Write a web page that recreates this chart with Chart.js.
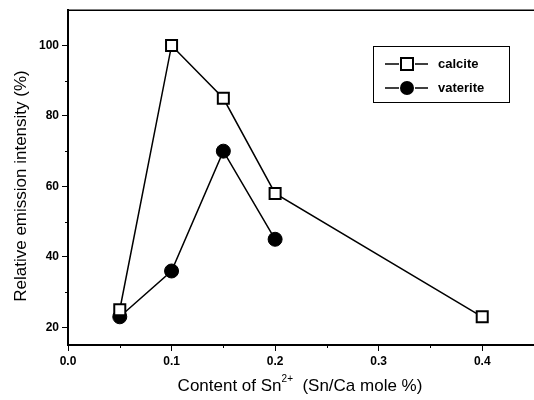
<!DOCTYPE html>
<html>
<head>
<meta charset="utf-8">
<script src="https://cdn.jsdelivr.net/npm/chart.js@4/dist/chart.umd.min.js"></script>
<style>
  body { margin: 0; background: #fff; }
  canvas { display: block; }
</style>
</head>
<body>
<canvas id="graphic" width="534" height="400"></canvas>
<script>
// Sn2+ content (Sn/Ca mole %) and relative emission intensity (%)
const calciteContent = [0.05, 0.1, 0.15, 0.2, 0.4];
const calciteIntensity = [25, 100, 85, 58, 23];
const vateriteContent = [0.05, 0.1, 0.15, 0.2];
const vateriteIntensity = [23, 36, 70, 45];

const xMajorTicks = [0.0, 0.1, 0.2, 0.3, 0.4];
const xMinorTicks = [0.05, 0.15, 0.25, 0.35, 0.45];
const yMajorTicks = [20, 40, 60, 80, 100];
const yMinorTicks = [30, 50, 70, 90];

const seriesNames = ['calcite', 'vaterite'];

const toPoints = (xs, ys) => xs.map((x, i) => ({ x: x, y: ys[i] }));

const FONT = 'Arial, "Liberation Sans", sans-serif';

// frame top line, minor ticks, axis titles and the legend box
const decorations = {
    id: 'decorations',
    afterDraw(chart) {
        const ctx = chart.ctx;
        const area = chart.chartArea;
        const xs = chart.scales.x;
        const ys = chart.scales.y;
        ctx.save();
        ctx.strokeStyle = '#000';

        ctx.lineWidth = 1.5;
        ctx.beginPath();
        ctx.moveTo(area.left, area.top);
        ctx.lineTo(area.right, area.top);
        ctx.stroke();

        ctx.lineWidth = 1;
        ctx.beginPath();
        xMinorTicks.forEach(v => {
            const px = Math.round(xs.getPixelForValue(v)) + 0.5;
            ctx.moveTo(px, area.bottom);
            ctx.lineTo(px, area.bottom + 3);
        });
        yMinorTicks.forEach(v => {
            const py = Math.round(ys.getPixelForValue(v)) + 0.5;
            ctx.moveTo(area.left, py);
            ctx.lineTo(area.left - 3, py);
        });
        ctx.stroke();

        // axis titles
        ctx.fillStyle = '#000';
        const titleFont = '17px ' + FONT;
        const supFont = '10px ' + FONT;
        ctx.font = titleFont;
        ctx.textBaseline = 'middle';
        ctx.save();
        ctx.translate(21, 186);
        ctx.rotate(-Math.PI / 2);
        ctx.textAlign = 'center';
        ctx.fillText('Relative emission intensity (%)', 0, 0);
        ctx.restore();

        const part1 = 'Content of Sn';
        const sup = '2+';
        const part2 = '  (Sn/Ca mole %)';
        const w1 = ctx.measureText(part1).width;
        const w3 = ctx.measureText(part2).width;
        ctx.font = supFont;
        const w2 = ctx.measureText(sup).width;
        let tx = 300 - (w1 + w2 + w3) / 2;
        const ty = 386;
        ctx.font = titleFont;
        ctx.textAlign = 'left';
        ctx.fillText(part1, tx, ty);
        tx += w1;
        ctx.font = supFont;
        ctx.fillText(sup, tx, ty - 7);
        tx += w2;
        ctx.font = titleFont;
        ctx.fillText(part2, tx, ty);

        // legend: short line, marker, short line, name
        const box = { x: 373.5, y: 46.5, w: 136, h: 56 };
        ctx.lineWidth = 1;
        ctx.strokeRect(box.x, box.y, box.w, box.h);
        ctx.font = 'bold 13px ' + FONT;
        chart.data.datasets.forEach((ds, i) => {
            const cy = 64 + i * 24;
            const mx = 407;
            ctx.lineWidth = 1.5;
            ctx.beginPath();
            ctx.moveTo(385, cy);
            ctx.lineTo(399, cy);
            ctx.moveTo(415, cy);
            ctx.lineTo(428, cy);
            ctx.stroke();
            ctx.fillStyle = ds.pointBackgroundColor;
            ctx.lineWidth = ds.pointBorderWidth;
            if (ds.pointStyle === 'rect') {
                ctx.fillRect(mx - 6, cy - 6, 12, 12);
                ctx.strokeRect(mx - 6, cy - 6, 12, 12);
            } else {
                ctx.beginPath();
                ctx.arc(mx, cy, 7, 0, Math.PI * 2);
                ctx.fill();
            }
            ctx.fillStyle = '#000';
            ctx.fillText(ds.label, 438, cy);
        });
        ctx.restore();
    }
};

new Chart(document.getElementById('graphic'), {
    type: 'line',
    data: {
        datasets: [{
            label: seriesNames[0],
            data: toPoints(calciteContent, calciteIntensity),
            borderColor: '#000',
            borderWidth: 1.5,
            pointStyle: 'rect',
            pointRadius: 7.8,
            pointBackgroundColor: '#fff',
            pointBorderColor: '#000',
            pointBorderWidth: 2,
            tension: 0
        }, {
            label: seriesNames[1],
            data: toPoints(vateriteContent, vateriteIntensity),
            borderColor: '#000',
            borderWidth: 1.5,
            pointStyle: 'circle',
            pointRadius: 7,
            pointBackgroundColor: '#000',
            pointBorderColor: '#000',
            pointBorderWidth: 1,
            tension: 0
        }]
    },
    options: {
        responsive: false,
        animation: false,
        layout: { autoPadding: false, padding: { top: 6, right: 0, left: 0, bottom: 0 } },
        plugins: {
            legend: { display: false },
            tooltip: { enabled: false }
        },
        scales: {
            x: {
                type: 'linear',
                min: 0,
                max: 0.45,
                afterBuildTicks: scale => { scale.ticks = xMajorTicks.map(v => ({ value: v })); },
                afterFit: scale => { scale.height = 55; },
                border: { color: '#000', width: 2 },
                grid: { drawOnChartArea: false, color: '#000', tickLength: 6, lineWidth: 1 },
                ticks: {
                    color: '#000',
                    padding: 3,
                    maxRotation: 0,
                    font: { family: FONT, size: 12, weight: 'bold' },
                    callback: value => value.toFixed(1)
                }
            },
            y: {
                min: 15,
                max: 110,
                afterBuildTicks: scale => { scale.ticks = yMajorTicks.map(v => ({ value: v })); },
                afterFit: scale => { scale.width = 68; },
                border: { color: '#000', width: 2 },
                grid: { drawOnChartArea: false, color: '#000', tickLength: 6, lineWidth: 1 },
                ticks: {
                    color: '#000',
                    padding: 3,
                    font: { family: FONT, size: 12, weight: 'bold' }
                }
            }
        }
    },
    plugins: [decorations]
});
</script>
</body>
</html>
